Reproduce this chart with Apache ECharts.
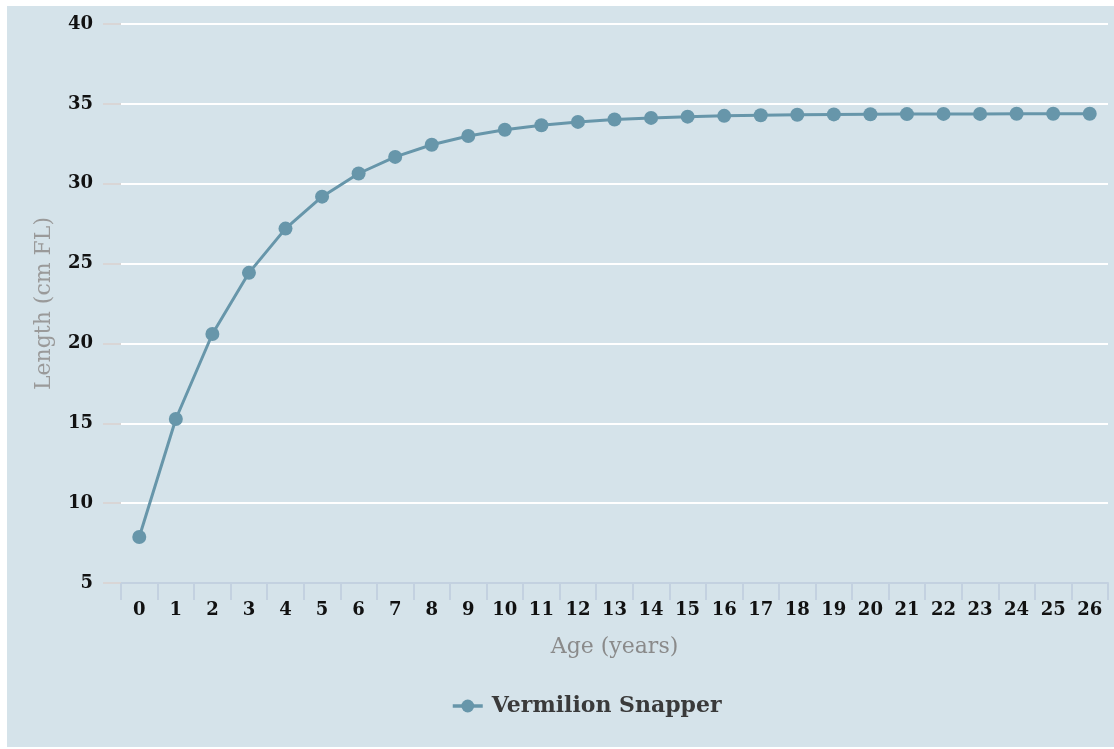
<!DOCTYPE html>
<html><head><meta charset="utf-8">
<script src="https://cdn.jsdelivr.net/npm/echarts@6/dist/echarts.min.js"></script>
<style>html,body{margin:0;padding:0;background:#fff;}#c{position:absolute;left:7px;top:6px;width:1107px;height:741px;}</style>
</head><body><div id="c"></div>
<script>
const ages = ['0','1','2','3','4','5','6','7','8','9','10','11','12','13','14','15','16','17','18','19','20','21','22','23','24','25','26'];
const lengths = [7.88,15.27,20.59,24.42,27.19,29.19,30.64,31.68,32.44,32.99,33.38,33.66,33.87,34.02,34.12,34.2,34.25,34.29,34.32,34.34,34.35,34.36,34.37,34.37,34.38,34.38,34.38];
const seriesName = 'Vermilion Snapper';
const serif = '"DejaVu Serif", serif';
const chart = echarts.init(document.getElementById('c'));
chart.setOption({
  backgroundColor: '#d5e3ea',
  animation: false,
  grid: {left: 114, right: 6, top: 18, bottom: 164},
  legend: {
    data: [seriesName], top: 684, left: 439, itemWidth: 30, itemHeight: 16, itemGap: 10,
    lineStyle: {width: 3.5},
    textStyle: {fontFamily: serif, fontWeight: 'bold', fontSize: 22, color: '#3a3a3a', padding: [0, 0, 0, 4]}
  },
  xAxis: {
    type: 'category', data: ages, boundaryGap: true,
    name: 'Age (years)', nameLocation: 'middle', nameGap: 53,
    nameTextStyle: {fontFamily: serif, fontSize: 22, color: '#8a8a8a'},
    axisLine: {show: true, lineStyle: {color: '#c3d1e0', width: 2}},
    axisTick: {show: true, alignWithLabel: false, length: 17, lineStyle: {color: '#c3d1e0', width: 2}},
    axisLabel: {margin: 18, fontFamily: serif, fontWeight: 'bold', fontSize: 18, color: '#111'},
    splitLine: {show: false}
  },
  yAxis: {
    type: 'value', min: 5, max: 40, interval: 5,
    name: 'Length (cm FL)', nameLocation: 'middle', nameGap: 66,
    nameTextStyle: {fontFamily: serif, fontSize: 22, color: '#9a9a9a'},
    axisLine: {show: false},
    axisTick: {show: true, length: 18, lineStyle: {color: '#d9d6d6', width: 2}},
    axisLabel: {margin: 28, fontFamily: serif, fontWeight: 'bold', fontSize: 18, color: '#111'},
    splitLine: {lineStyle: {color: '#ffffff', width: 2}}
  },
  series: [{
    name: seriesName, type: 'line', data: lengths,
    symbol: 'circle', symbolSize: 14,
    lineStyle: {color: '#6796aa', width: 3},
    itemStyle: {color: '#6796aa'}
  }]
});
</script></body></html>
